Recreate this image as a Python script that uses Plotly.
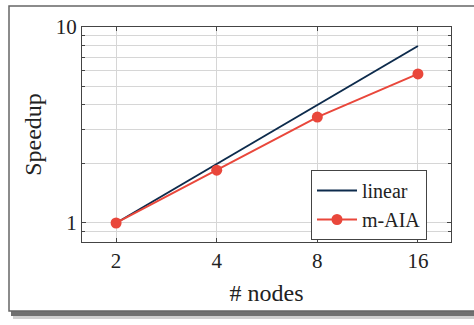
import plotly.graph_objects as go

# Strong-scaling data
nodes = [2, 4, 8, 16]
linear_speedup = [1, 2, 4, 8]
maia_speedup = [1.0, 1.86, 3.47, 5.76]

x_ticks = [2, 4, 8, 16]
y_ticks = [1, 10]
y_minor = [0.9, 2, 3, 4, 5, 6, 7, 8, 9]

NAVY = "#0d2b4c"
RED = "#e9473b"
FONT = "Liberation Serif"
TEXT = "#222222"

W, H = 474, 325
L, R, T, B = 82, 23, 27, 83
pw, ph = W - L - R, H - T - B


def px(x):
    return (x - L) / pw


def py(y):
    return (H - B - y) / ph


fig = go.Figure()
fig.add_trace(go.Scatter(x=nodes, y=linear_speedup, mode="lines", name="linear",
                         line=dict(color=NAVY, width=2)))
fig.add_trace(go.Scatter(x=nodes, y=maia_speedup, mode="lines+markers", name="m-AIA",
                         line=dict(color=RED, width=2),
                         marker=dict(color=RED, size=11)))

# outer frame with drop shadow
shapes = [
    dict(type="rect", xref="paper", yref="paper", layer="below",
         x0=px(13), x1=px(480), y0=py(319), y1=py(312),
         fillcolor="#cfcfcf", line=dict(width=0)),
    dict(type="rect", xref="paper", yref="paper", layer="below",
         x0=px(11), x1=px(480), y0=py(316), y1=py(311),
         fillcolor="#707070", line=dict(width=0)),
    dict(type="rect", xref="paper", yref="paper", layer="below",
         x0=px(9), x1=px(490), y0=py(311), y1=py(6),
         fillcolor="white", line=dict(color="#666666", width=1.5)),
]

fig.update_layout(
    width=W, height=H,
    margin=dict(l=L, r=R, t=T, b=B),
    paper_bgcolor="white", plot_bgcolor="rgba(0,0,0,0)",
    font=dict(family=FONT, size=20, color=TEXT),
    shapes=shapes,
    showlegend=True,
    legend=dict(x=px(311), y=py(170), xanchor="left", yanchor="top",
                bgcolor="white", bordercolor="#444444", borderwidth=1,
                font=dict(family=FONT, size=20, color=TEXT),
                itemwidth=40, tracegroupgap=0),
    xaxis=dict(type="log", range=[0.199, 1.303], tickvals=x_ticks,
               ticktext=[str(v) for v in x_ticks],
               tickfont=dict(size=21),
               showgrid=True, gridcolor="#d6d6d6", gridwidth=1,
               showline=True, linecolor="#444444", linewidth=1.2, mirror="ticks",
               ticks="inside", ticklen=4, tickcolor="#444444",
               zeroline=False,
               title=dict(text="# nodes", standoff=11)),
    yaxis=dict(type="log", range=[-0.097, 1.0], tickvals=y_ticks,
               ticktext=[str(v) for v in y_ticks],
               tickfont=dict(size=21),
               showgrid=True, gridcolor="#d6d6d6", gridwidth=1,
               showline=True, linecolor="#444444", linewidth=1.2, mirror="ticks",
               ticks="inside", ticklen=4, tickcolor="#444444",
               minor=dict(tickmode="array", tickvals=y_minor, ticks="inside",
                          ticklen=3, tickcolor="#444444",
                          showgrid=True, gridcolor="#d6d6d6", gridwidth=1),
               zeroline=False,
               title=dict(text="Speedup", standoff=7)),
)

fig.write_html("out.html")
